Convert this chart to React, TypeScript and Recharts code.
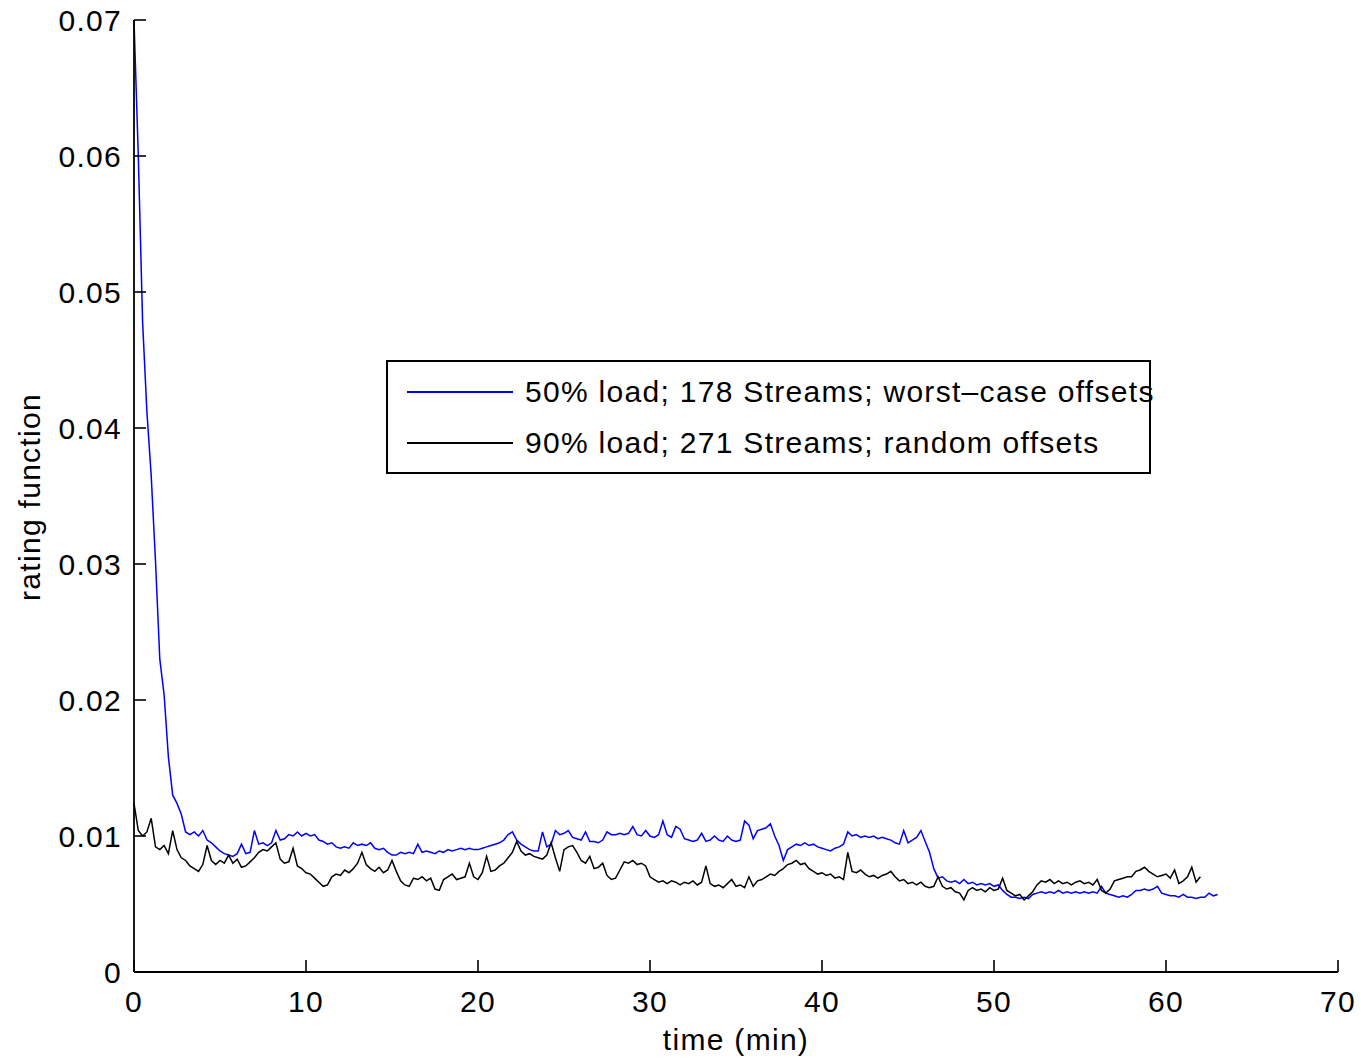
import React from "react";
import { LineChart, Line, XAxis, YAxis, Legend } from "recharts";

// sampling interval of both traces, in minutes
const SAMPLE_STEP = 0.25;

const worstCaseRating = [
  0.07, 0.06, 0.0478, 0.0412, 0.0365, 0.0302, 0.023, 0.0204, 0.0158, 0.013, 0.0124, 0.0116,
  0.0103, 0.0101, 0.0103, 0.01, 0.0104, 0.0097, 0.0095, 0.0092, 0.0089, 0.0087, 0.0086, 0.0085,
  0.0087, 0.0094, 0.0087, 0.0088, 0.0104, 0.0094, 0.0095, 0.0093, 0.0095, 0.0104, 0.0097, 0.0098,
  0.0101, 0.01, 0.0103, 0.01, 0.0102, 0.01, 0.0101, 0.0097, 0.0096, 0.0094, 0.0095, 0.0092,
  0.0091, 0.0092, 0.0091, 0.0095, 0.0093, 0.0094, 0.0093, 0.0095, 0.0091, 0.009, 0.0091, 0.0088,
  0.0086, 0.0086, 0.0088, 0.0087, 0.0088, 0.0087, 0.0094, 0.0088, 0.0089, 0.0088, 0.0087, 0.0089,
  0.0088, 0.009, 0.0089, 0.009, 0.0091, 0.009, 0.0091, 0.009, 0.009, 0.0091, 0.0092, 0.0093,
  0.0094, 0.0095, 0.0097, 0.0101, 0.0103, 0.0097, 0.0094, 0.0092, 0.009, 0.0089, 0.0089, 0.0103,
  0.0092, 0.0094, 0.0104, 0.0101, 0.0102, 0.0104, 0.0099, 0.0098, 0.0097, 0.0103, 0.0096, 0.0096,
  0.0095, 0.0097, 0.0103, 0.0101, 0.0101, 0.0102, 0.0101, 0.0102, 0.0107, 0.0101, 0.01, 0.0104,
  0.01, 0.0099, 0.0101, 0.0111, 0.0101, 0.0099, 0.0107, 0.0105, 0.0098, 0.0097, 0.0096, 0.0097,
  0.0102, 0.0096, 0.0097, 0.01, 0.0097, 0.0096, 0.01, 0.0097, 0.0096, 0.0097, 0.0111, 0.0108,
  0.0098, 0.0104, 0.0105, 0.0106, 0.0109, 0.01, 0.0093, 0.0082, 0.009, 0.0092, 0.0094, 0.0093,
  0.0095, 0.0093, 0.0094, 0.0092, 0.0091, 0.009, 0.0089, 0.0091, 0.0092, 0.0094, 0.0103, 0.01,
  0.0101, 0.0099, 0.01, 0.0099, 0.01, 0.0098, 0.0099, 0.0098, 0.0097, 0.0095, 0.0094, 0.0104,
  0.0095, 0.0097, 0.0099, 0.0104, 0.0096, 0.0088, 0.0076, 0.0069, 0.007, 0.0067, 0.0066, 0.0067,
  0.0065, 0.0068, 0.0065, 0.0066, 0.0064, 0.0065, 0.0064, 0.0065, 0.0063, 0.0064, 0.006, 0.0057,
  0.0055, 0.0055, 0.0054, 0.0055, 0.0054, 0.0057, 0.0058, 0.0059, 0.0058, 0.0059, 0.0058, 0.006,
  0.0058, 0.0059, 0.0058, 0.0059, 0.0058, 0.0059, 0.0058, 0.0059, 0.0058, 0.0063, 0.0058, 0.0057,
  0.0056, 0.0055, 0.0056, 0.0055, 0.0057, 0.006, 0.006, 0.0061, 0.006, 0.0061, 0.0063, 0.0058,
  0.0057, 0.0056, 0.0056, 0.0055, 0.0057, 0.0055, 0.0055, 0.0054, 0.0055, 0.0055, 0.0058, 0.0056,
  0.0057,
];

const randomRating = [
  0.0124, 0.0104, 0.01, 0.0103, 0.0113, 0.0092, 0.009, 0.0093, 0.0087, 0.0104, 0.009, 0.0084,
  0.0082, 0.0078, 0.0076, 0.0074, 0.0079, 0.0093, 0.0082, 0.0079, 0.0082, 0.008, 0.0086, 0.008,
  0.0083, 0.0077, 0.0078, 0.0081, 0.0084, 0.0088, 0.009, 0.0089, 0.0092, 0.0095, 0.0083, 0.008,
  0.0081, 0.0091, 0.0078, 0.0076, 0.0073, 0.0072, 0.0069, 0.0066, 0.0063, 0.0064, 0.007, 0.0072,
  0.0071, 0.0075, 0.0073, 0.0076, 0.008, 0.0088, 0.0079, 0.0076, 0.0074, 0.0077, 0.0073, 0.0075,
  0.0082, 0.0074, 0.0067, 0.0064, 0.0063, 0.0069, 0.0068, 0.007, 0.0067, 0.0069, 0.0061, 0.006,
  0.0068, 0.007, 0.0072, 0.0068, 0.0069, 0.007, 0.008, 0.007, 0.0068, 0.0073, 0.0085, 0.0074,
  0.0075, 0.0078, 0.008, 0.0084, 0.0088, 0.0096, 0.0089, 0.0086, 0.0087, 0.0085, 0.0084, 0.0083,
  0.0086, 0.0095, 0.0084, 0.0074, 0.009, 0.0092, 0.0093, 0.0088, 0.0082, 0.008, 0.0085, 0.0076,
  0.0077, 0.008, 0.0071, 0.0068, 0.0069, 0.0075, 0.0081, 0.008, 0.0082, 0.0079, 0.008, 0.0078,
  0.007, 0.0068, 0.0066, 0.0067, 0.0065, 0.0067, 0.0066, 0.0064, 0.0066, 0.0065, 0.0067, 0.0064,
  0.0066, 0.0078, 0.0065, 0.0063, 0.0064, 0.0062, 0.0065, 0.0068, 0.0063, 0.0064, 0.0062, 0.007,
  0.0063, 0.0067, 0.0068, 0.007, 0.0072, 0.0071, 0.0074, 0.0076, 0.0079, 0.008, 0.0082, 0.0079,
  0.008, 0.0076, 0.0074, 0.0072, 0.0073, 0.0071, 0.0072, 0.0069, 0.007, 0.0068, 0.0088, 0.0074,
  0.0073, 0.0075, 0.0072, 0.007, 0.0071, 0.0069, 0.0071, 0.0072, 0.0074, 0.007, 0.0067, 0.0068,
  0.0065, 0.0066, 0.0064, 0.0066, 0.0063, 0.0062, 0.0063, 0.007, 0.0063, 0.0061, 0.0062, 0.0059,
  0.0058, 0.0053, 0.006, 0.0062, 0.006, 0.0061, 0.0059, 0.0062, 0.006, 0.0061, 0.0069, 0.006,
  0.0058, 0.0056, 0.0057, 0.0053, 0.0056, 0.0059, 0.0064, 0.0067, 0.0066, 0.0068, 0.0065, 0.0067,
  0.0065, 0.0066, 0.0064, 0.0066, 0.0067, 0.0065, 0.0066, 0.0064, 0.0068, 0.006, 0.0058, 0.0061,
  0.0067, 0.0068, 0.0069, 0.007, 0.007, 0.0074, 0.0075, 0.0077, 0.0074, 0.0072, 0.007, 0.0071,
  0.0072, 0.0069, 0.0075, 0.0065, 0.0067, 0.007, 0.0077, 0.0066, 0.007,
];

const xTicks = [0, 10, 20, 30, 40, 50, 60, 70];
const yTicks = [0, 0.01, 0.02, 0.03, 0.04, 0.05, 0.06, 0.07];

const seriesNames = {
  worst: "50% load; 178 Streams; worst\u2013case offsets",
  random: "90% load; 271 Streams; random offsets",
};

const FONT = "'Liberation Sans', Arial, Helvetica, sans-serif";
const TICK_LEN = 12;

const rows = Array.from(
  { length: Math.max(worstCaseRating.length, randomRating.length) },
  (_, i) => ({
    t: i * SAMPLE_STEP,
    worst: worstCaseRating[i],
    random: randomRating[i],
  })
);

const textStyle = { fontFamily: FONT, fontSize: 30, letterSpacing: 1.3, fill: "#000" };

const YTick = (props: any) => {
  const { x, y, payload } = props;
  const v = payload.value;
  return (
    <g>
      <line x1={x} x2={x + TICK_LEN} y1={y} y2={y} stroke="#000" strokeWidth={1.6} />
      <text x={x - 12} y={y + 11} textAnchor="end" style={textStyle}>
        {v === 0 ? "0" : v.toFixed(2)}
      </text>
    </g>
  );
};

const XTick = (props: any) => {
  const { x, y, payload } = props;
  return (
    <g>
      <line x1={x} x2={x} y1={y} y2={y - TICK_LEN} stroke="#000" strokeWidth={1.6} />
      <text x={x} y={y + 40} textAnchor="middle" style={textStyle}>
        {payload.value}
      </text>
    </g>
  );
};

const LegendBox = ({ payload }: any) => (
  <div
    style={{
      position: "relative",
      width: 765,
      height: 114,
      boxSizing: "border-box",
      border: "2px solid #000",
      background: "#fff",
      fontFamily: FONT,
      fontSize: 30,
      letterSpacing: 1.3,
      color: "#000",
      whiteSpace: "nowrap",
    }}
  >
    {(payload || []).map((entry: any, i: number) => (
      <div key={entry.value} style={{ position: "absolute", left: 19, top: 30 + i * 51 - 17, height: 34 }}>
        <div
          style={{
            position: "absolute",
            left: 0,
            top: 16,
            width: 106,
            height: 0,
            borderTop: `2px solid ${entry.color}`,
          }}
        />
        <span style={{ position: "absolute", left: 118, top: 0, lineHeight: "34px" }}>{entry.value}</span>
      </div>
    ))}
  </div>
);

export default function App() {
  return (
    <div style={{ position: "absolute", left: 0, top: 0, background: "#fff", fontFamily: FONT }}>
      <LineChart width={1361} height={1058} data={rows} margin={{ top: 20, right: 23, bottom: 0, left: 0 }}>
        <XAxis
          type="number"
          dataKey="t"
          domain={[0, 70]}
          ticks={xTicks}
          height={86}
          tickSize={0}
          tickMargin={0}
          tickLine={false}
          axisLine={{ stroke: "#000", strokeWidth: 1.8 }}
          tick={<XTick />}
          interval={0}
          label={{
            content: ({ viewBox }: any) => (
              <text x={viewBox.x + viewBox.width / 2} y={viewBox.y + 78} textAnchor="middle" style={textStyle}>
                time (min)
              </text>
            ),
          }}
        />
        <YAxis
          type="number"
          domain={[0, 0.07]}
          ticks={yTicks}
          width={134}
          tickSize={0}
          tickMargin={0}
          tickLine={false}
          axisLine={{ stroke: "#000", strokeWidth: 1.8 }}
          tick={<YTick />}
          interval={0}
          label={{
            content: ({ viewBox }: any) => {
              const cx = 40;
              const cy = viewBox.y + viewBox.height / 2 + 1;
              return (
                <text
                  x={cx}
                  y={cy}
                  textAnchor="middle"
                  transform={`rotate(-90, ${cx}, ${cy})`}
                  style={textStyle}
                >
                  rating function
                </text>
              );
            },
          }}
        />
        <Legend
          layout="horizontal"
          verticalAlign="middle"
          align="center"
          wrapperStyle={{ left: 386, top: 360, width: 765, height: 114 }}
          content={<LegendBox />}
        />
        <Line
          type="linear"
          dataKey="worst"
          name={seriesNames.worst}
          stroke="#0000ff"
          strokeWidth={1.5}
          dot={false}
          activeDot={false}
          isAnimationActive={false}
        />
        <Line
          type="linear"
          dataKey="random"
          name={seriesNames.random}
          stroke="#000000"
          strokeWidth={1.5}
          dot={false}
          activeDot={false}
          isAnimationActive={false}
        />
      </LineChart>
    </div>
  );
}
